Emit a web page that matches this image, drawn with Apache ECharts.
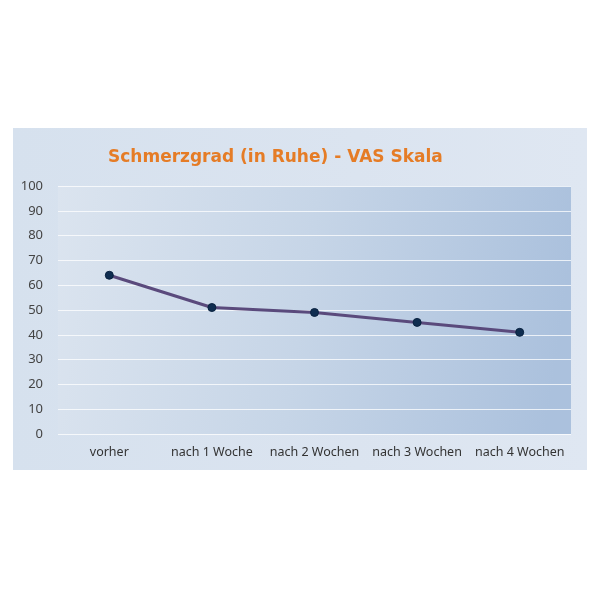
<!DOCTYPE html>
<html>
<head>
<meta charset="utf-8">
<script src="https://cdn.jsdelivr.net/npm/echarts@6/dist/echarts.min.js"></script>
<style>
html,body{margin:0;padding:0;background:#fff;width:600px;height:600px;overflow:hidden;}
#panel{position:absolute;left:13px;top:128px;width:574px;height:342px;
background:linear-gradient(90deg,#d6e1ee 0%,#dbe4f0 60%,#dfe7f2 100%);}
#chart{width:574px;height:342px;}
</style>
</head>
<body>
<div id="panel"><div id="chart"></div></div>
<script>
const titleText = 'Schmerzgrad (in Ruhe) - VAS Skala';
const categories = ['vorher', 'nach 1 Woche', 'nach 2 Wochen', 'nach 3 Wochen', 'nach 4 Wochen'];
const vasValues = [64, 51, 49, 45, 41];
const yMin = 0, yMax = 100, yStep = 10;

const chart = echarts.init(document.getElementById('chart'), null, {renderer: 'canvas'});
chart.setOption({
  animation: false,
  title: {
    text: titleText,
    left: 90, top: 16,
    textStyle: {color: '#e57c26', fontSize: 17, fontWeight: 'bold', fontFamily: 'DejaVu Sans'}
  },
  grid: {
    left: 45, right: 16, top: 58, bottom: 36,
    show: true, borderWidth: 0,
    backgroundColor: {
      type: 'linear', x: 0, y: 0, x2: 1, y2: 0.3,
      colorStops: [
        {offset: 0, color: '#dbe4ef'},
        {offset: 0.5, color: '#c6d5e7'},
        {offset: 1, color: '#abc1dd'}
      ]
    }
  },
  xAxis: {
    type: 'category', data: categories, boundaryGap: true,
    axisLine: {show: false}, axisTick: {show: false},
    axisLabel: {color: '#333', fontSize: 12.5, margin: 12, fontFamily: 'Noto Sans', interval: 0}
  },
  yAxis: {
    type: 'value', min: yMin, max: yMax, interval: yStep,
    axisLine: {show: false}, axisTick: {show: false},
    axisLabel: {color: '#444', fontSize: 13, margin: 15, fontFamily: 'Noto Sans'},
    splitLine: {lineStyle: {color: 'rgba(255,255,255,0.75)', width: 1.2}}
  },
  series: [{
    type: 'line', data: vasValues,
    symbol: 'circle', symbolSize: 8,
    lineStyle: {color: '#5a4a7c', width: 3},
    itemStyle: {color: '#0f2d50', borderColor: '#0a2240', borderWidth: 1}
  }]
});
</script>
</body>
</html>
